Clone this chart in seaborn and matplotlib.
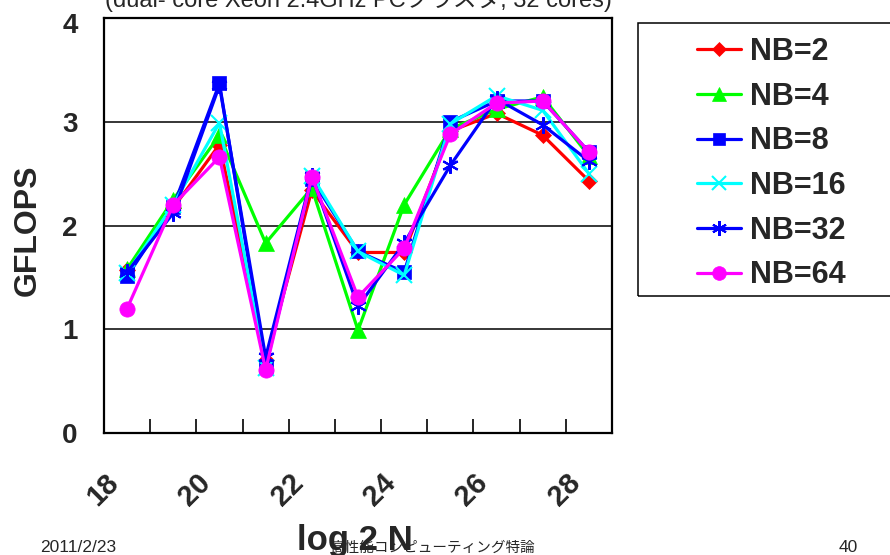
import matplotlib
matplotlib.use("Agg")
import matplotlib.pyplot as plt
import matplotlib.transforms as mtransforms
from matplotlib.patches import Rectangle
from matplotlib.lines import Line2D
import seaborn as sns
import pandas as pd

# ---- data ----
log2n = [18, 19, 20, 21, 22, 23, 24, 25, 26, 27, 28]
nb2 = [1.57, 2.17, 2.78, 0.70, 2.34, 1.74, 1.74, 2.91, 3.08, 2.87, 2.43]
nb4 = [1.58, 2.25, 2.87, 1.83, 2.36, 0.99, 2.20, 2.93, 3.12, 3.24, 2.67]
nb8 = [1.51, 2.18, 3.37, 0.65, 2.45, 1.75, 1.55, 3.00, 3.20, 3.20, 2.71]
nb16 = [1.54, 2.20, 2.99, 0.63, 2.48, 1.75, 1.52, 2.98, 3.25, 3.11, 2.50]
nb32 = [1.55, 2.12, 3.35, 0.73, 2.48, 1.22, 1.83, 2.58, 3.22, 2.97, 2.62]
nb64 = [1.20, 2.20, 2.66, 0.61, 2.47, 1.31, 1.78, 2.88, 3.18, 3.20, 2.71]
series_labels = ["NB=2", "NB=4", "NB=8", "NB=16", "NB=32", "NB=64"]
xtick_labels = ["18", "20", "22", "24", "26", "28"]
ytick_labels = ["0", "1", "2", "3", "4"]

series_values = [nb2, nb4, nb8, nb16, nb32, nb64]
colors = ["#FF0000", "#00FF00", "#0000FF", "#00FFFF", "#0000FF", "#FF00FF"]
markers = ["D", "^", "s", "x", (6, 2, 0), "o"]
msizes = [8, 11, 10, 11, 12, 11]

sns.set_style("white")
plt.rcParams["font.family"] = ["Liberation Sans", "DejaVu Sans"]

W, H = 890, 555
fig = plt.figure(figsize=(W / 100, H / 100), dpi=100)
ax = fig.add_axes([104 / W, 1 - 433 / H, (612 - 104) / W, (433 - 18) / H])

rows = []
for lab, vals in zip(series_labels, series_values):
    for x, v in zip(log2n, vals):
        rows.append({"log2N": x, "GFLOPS": v, "NB": lab})
df = pd.DataFrame(rows)


def edge_width(mk):
    return 1.5 if (mk == "x" or isinstance(mk, tuple)) else 0.5


for i, lab in enumerate(series_labels):
    sub = df[df["NB"] == lab]
    mk = markers[i]
    sns.lineplot(data=sub, x="log2N", y="GFLOPS", ax=ax, legend=False,
                 zorder=3 + i, marker=mk, markersize=msizes[i], color=colors[i],
                 markeredgecolor=colors[i], markerfacecolor=colors[i],
                 linewidth=2.3, markeredgewidth=edge_width(mk))

ax.set_xlim(17.5, 28.5)
ax.set_ylim(0, 4)
ax.set_yticks([0, 1, 2, 3, 4])
ax.set_yticklabels(ytick_labels, fontsize=20, fontweight="bold")
ax.yaxis.grid(True, color="black", linewidth=1.1)
ax.set_axisbelow(True)
for s in ax.spines.values():
    s.set_color("black")
    s.set_linewidth(1.6)
ax.tick_params(axis="y", length=0, pad=19)
ylabs = ax.get_yticklabels()
ylabs[-1].set_transform(ylabs[-1].get_transform() +
                        mtransforms.ScaledTranslation(0, -5 / 100, fig.dpi_scale_trans))

ax.set_xticks([18, 20, 22, 24, 26, 28])
ax.set_xticklabels(xtick_labels, fontsize=21, fontweight="bold",
                   rotation=45, ha="right", va="center", rotation_mode="anchor")
ax.set_xticks([18.5 + k for k in range(10)], minor=True)
ax.tick_params(axis="x", which="major", length=0, pad=33)
ax.tick_params(axis="x", which="minor", direction="in", length=10, width=1.2,
               color="black", bottom=True)
offset = mtransforms.ScaledTranslation(-13 / 100, 0, fig.dpi_scale_trans)
for t in ax.get_xticklabels():
    t.set_transform(t.get_transform() + offset)

ax.set_xlabel("")
ax.set_ylabel("")

# axis titles
fig.text(28 / W, 1 - 230 / H, "GFLOPS", rotation=90, fontsize=23, fontweight="bold",
         ha="center", va="center")
fig.text(355 / W, 1 - 550 / H, "log 2 N", fontsize=25, fontweight="bold",
         ha="center", va="baseline")

# cut-off title at top
fig.text(358 / W, 1 - 7 / H, "(dual- core Xeon 2.4GHz PCクラスタ, 32 cores)",
         fontsize=17, ha="center", va="baseline",
         family=["Liberation Sans", "Noto Sans CJK JP"])

# footer
fig.text(40 / W, 1 - 552 / H, "2011/2/23", fontsize=12.5, ha="left", va="baseline")
fig.text(432 / W, 1 - 552 / H, "高性能コンピューティング特論", fontsize=10.5,
         ha="center", va="baseline", family=["Noto Sans CJK JP", "DejaVu Sans"])
fig.text(858 / W, 1 - 552 / H, "40", fontsize=12.5, ha="right", va="baseline")

# legend
handles = [Line2D([0], [0], color=colors[i], marker=markers[i],
                  markersize=msizes[i] * 0.9, markerfacecolor=colors[i],
                  markeredgecolor=colors[i], linewidth=2.3,
                  markeredgewidth=edge_width(markers[i]))
           for i in range(6)]
fig.add_artist(Rectangle((638 / W, 1 - 296 / H), (895 - 638) / W, (296 - 22.7) / H,
                         transform=fig.transFigure, fill=False, edgecolor="black",
                         linewidth=1.1))
leg = fig.legend(handles, series_labels, loc="upper left",
                 bbox_to_anchor=(697 / W, 1 - 37 / H), frameon=False,
                 borderpad=0, borderaxespad=0, handlelength=1.44, handletextpad=0.29,
                 labelspacing=0.48, prop={"size": 22, "weight": "bold"})

fig.savefig("out.png", dpi=100)
